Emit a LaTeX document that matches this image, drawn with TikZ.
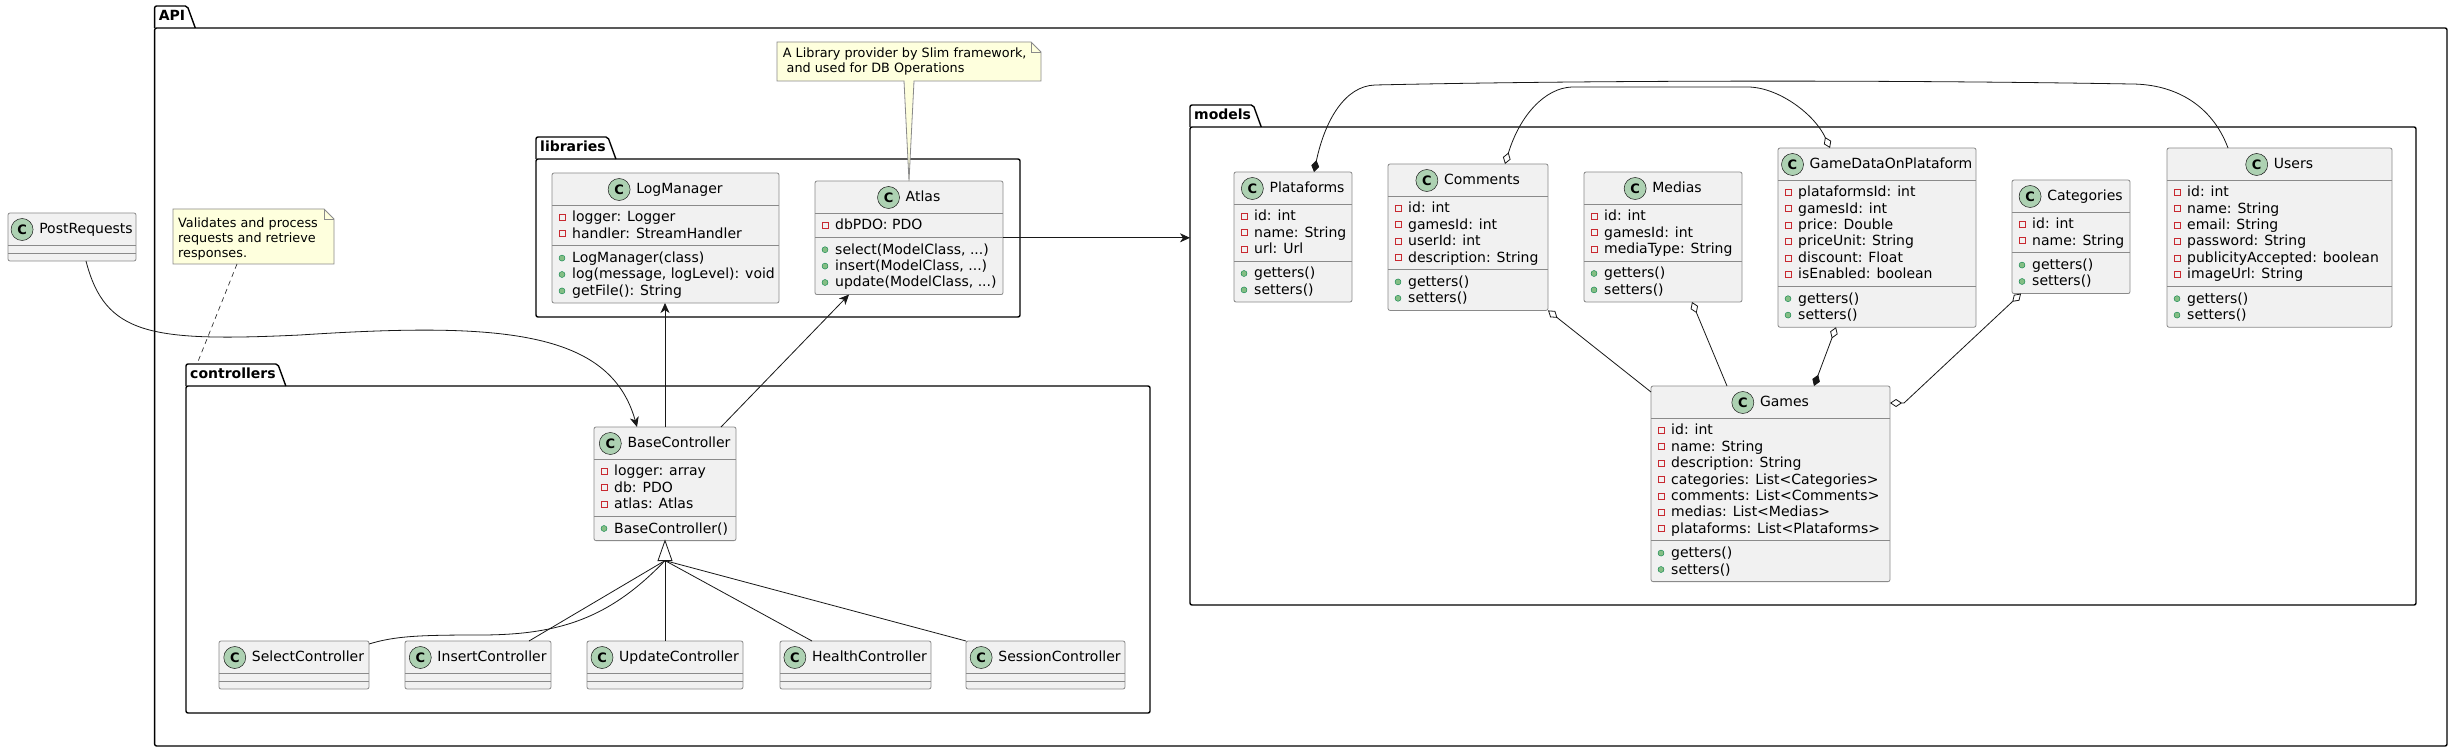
\documentclass[tikz,border=0pt]{standalone}
\usepackage{fontspec}
\setmainfont{DejaVu Sans}
\usetikzlibrary{arrows.meta}

\definecolor{classfill}{HTML}{F1F1F1}
\definecolor{classline}{HTML}{181818}
\definecolor{boxline}{HTML}{8A8A8A}
\definecolor{iconfill}{HTML}{ADD1B2}
\definecolor{privred}{HTML}{C82930}
\definecolor{pubfill}{HTML}{84BE84}
\definecolor{publine}{HTML}{038048}
\definecolor{notefill}{HTML}{FEFFDD}

\tikzset{classbox/.style = {draw=boxline, fill=classfill, line width=0.8pt, rectangle, rounded corners=2pt, inner sep=0pt, outer sep=0pt, anchor=north west},
         sepline/.style = {draw=boxline, line width=0.8pt},
         classicon/.style = {draw=classline, fill=iconfill, line width=0.5pt, circle, minimum size=22pt, inner sep=0pt, font=\fontsize{13}{13}\selectfont\bfseries},
         classname/.style = {inner sep=0pt, anchor=base, font=\fontsize{14}{16}\selectfont},
         member/.style = {inner sep=0pt, anchor=base west, font=\fontsize{14}{16}\selectfont},
         privmark/.style = {draw=privred, line width=0.6pt},
         pubmark/.style = {draw=publine, fill=pubfill, line width=0.4pt},
         package/.style = {draw=black, line width=1.4pt, rectangle, rounded corners=2pt, inner sep=0pt, outer sep=0pt, anchor=north west},
         pkgtab/.style = {draw=black, line width=1.4pt, rounded corners=2pt},
         pkgname/.style = {inner sep=0pt, anchor=base west, font=\fontsize{14}{16}\selectfont\bfseries},
         notearea/.style = {rectangle, inner sep=0pt, outer sep=0pt, anchor=north west},
         noteshape/.style = {draw=boxline, fill=notefill, line width=0.8pt},
         notetext/.style = {inner sep=0pt, anchor=base west, font=\fontsize{12.8}{15}\selectfont},
         link/.style = {draw=classline, line width=0.8pt},
         uses/.style = {link, -{Stealth[length=10pt, width=9pt, inset=3pt]}},
         odiam/.tip = {Diamond[length=12pt, width=8pt, fill=white]},
         fdiam/.tip = {Diamond[length=12pt, width=8pt]}}

\newcommand{\countmembers}[1]{\gdef\nmembers{0}\if\relax\detokenize{#1}\relax\else\foreach \q [count=\k] in {#1} {\xdef\nmembers{\k}}\fi}

% id, x, y, width, title, attributes, methods
\newcommand{\umlclass}[7]{%
  \countmembers{#6}\let\clsna\nmembers
  \countmembers{#7}\let\clsnm\nmembers
  \pgfmathsetmacro\clsha{\clsna*16.4+8}%
  \pgfmathsetmacro\clsht{32+\clsha+\clsnm*16.4+8}%
  \node[classbox, minimum width=#4pt, minimum height=\clsht pt] (#1) at (#2,#3) {};
  \draw[sepline] (#2,#3+32) -- ++(#4,0);
  \draw[sepline] (#2,#3+32+\clsha) -- ++(#4,0);
  \node[classname] (#1-name) at (#2+#4/2,#3+20.6) {\hspace*{28pt}#5};
  \node[classicon] (#1-icon) at ([xshift=11pt,yshift=4.1pt]#1-name.base west) {C};
  \if\relax\detokenize{#6}\relax\else
    \foreach \m [count=\i] in {#6} {
      \node[member] (#1-a\i) at (#2+20,#3+48.8+\i*16.4-16.4) {\m};
      \draw[privmark] (#2+7,#3+48.8+\i*16.4-16.4-7.5) rectangle ++(6,6);
    }
  \fi
  \if\relax\detokenize{#7}\relax\else
    \foreach \m [count=\i] in {#7} {
      \node[member] (#1-m\i) at (#2+20,#3+48.8+\clsha+\i*16.4-16.4) {\m};
      \draw[pubmark] (#2+10,#3+48.8+\clsha+\i*16.4-16.4-4.5) circle (3pt);
    }
  \fi
}

% id, left, tab top, frame top, right, bottom, title
\newcommand{\umlpkg}[7]{%
  \node[package, minimum width=#5pt-#2pt, minimum height=#6pt-#4pt] (#1) at (#2,#4) {};
  \coordinate (#1-tab) at (#2,#3);
  \node[pkgname] (#1-name) at (#2+4,#3+14.5) {#7};
  \draw[pkgtab] (#1.north west) -- (#1-tab) -- ([xshift=2pt]#1-name.east |- #1-tab) -- ([xshift=10pt]#1-name.east |- #1.north);
}

\begin{document}
\begin{tikzpicture}[x=1pt, y=-1pt]
    \fill[white] (0,0) rectangle (2454,751);
    \useasboundingbox (0,0) rectangle (2454,751);

    \umlpkg{api}{154.6}{6}{28}{2447}{746}{API}
    \umlpkg{libraries}{536}{137}{159}{1020}{317}{libraries}
    \umlpkg{controllers}{186}{364}{386}{1150}{713}{controllers}
    \umlpkg{models}{1190}{105}{127}{2416}{605}{models}

    \umlclass{post}{8}{213}{128}{PostRequests}{}{}
    \umlclass{logm}{552}{173}{227}{LogManager}{logger: Logger, handler: StreamHandler}{LogManager(class), {log(message, logLevel): void}, getFile(): String}
    \umlclass{atlas}{815}{181}{188}{Atlas}{dbPDO: PDO}{{select(ModelClass, .{}.{}.)}, {insert(ModelClass, .{}.{}.)}, {update(ModelClass, .{}.{}.)}}
    \umlclass{bc}{594}{427}{142}{BaseController}{logger: array, db: PDO, atlas: Atlas}{BaseController()}
    \umlclass{selc}{219}{641}{150}{SelectController}{}{}
    \umlclass{insc}{405}{641}{146}{InsertController}{}{}
    \umlclass{updc}{587}{641}{156}{UpdateController}{}{}
    \umlclass{hlthc}{780}{641}{151}{HealthController}{}{}
    \umlclass{sessc}{966}{641}{159}{SessionController}{}{}

    \umlclass{plat}{1234}{172}{118}{Plataforms}{id: int, name: String, url: Url}{getters(), setters()}
    \umlclass{comm}{1388}{164}{160}{Comments}{id: int, gamesId: int, userId: int, description: String}{getters(), setters()}
    \umlclass{medias}{1584}{172}{158}{Medias}{id: int, gamesId: int, mediaType: String}{getters(), setters()}
    \umlclass{gdop}{1778}{148}{198}{GameDataOnPlataform}{plataformsId: int, gamesId: int, price: Double, priceUnit: String, discount: Float, isEnabled: boolean}{getters(), setters()}
    \umlclass{cats}{2012}{180}{118}{Categories}{id: int, name: String}{getters(), setters()}
    \umlclass{users}{2167}{148}{225}{Users}{id: int, name: String, email: String, password: String, publicityAccepted: boolean, imageUrl: String}{getters(), setters()}
    \umlclass{games}{1651}{386}{239}{Games}{id: int, name: String, description: String, categories: List<Categories>, comments: List<Comments>, medias: List<Medias>, plataforms: List<Plataforms>}{getters(), setters()}

    % notes
    \node[notearea, minimum width=161pt, minimum height=55pt] (valnote) at (173,209) {};
    \draw[noteshape] (valnote.north west) -- ([xshift=-10pt]valnote.north east) -- ([yshift=-10pt]valnote.north east) -- (valnote.south east) -- (valnote.south west) -- cycle;
    \draw[noteshape, fill=none] ([xshift=-10pt]valnote.north east) |- ([yshift=-10pt]valnote.north east);
    \foreach \l [count=\i] in {Validates and process, requests and retrieve, responses.}
        \node[notetext] (valnote-l\i) at (178,227.5+\i*15-15) {\l};

    \node[notearea, minimum width=264pt, minimum height=39pt] (libnote) at (777,42) {};
    \draw[noteshape] (libnote.north west) -- ([xshift=-10pt]libnote.north east) -- ([yshift=-10pt]libnote.north east) -- (libnote.south east) -- (libnote.south west) -- cycle;
    \draw[noteshape, fill=none] ([xshift=-10pt]libnote.north east) |- ([yshift=-10pt]libnote.north east);
    \fill[notefill] ([xshift=-4.6pt,yshift=1pt]libnote.south) -- (atlas.north) -- ([xshift=4.6pt,yshift=1pt]libnote.south) -- cycle;
    \draw[noteshape, fill=none] ([xshift=-5pt]libnote.south) -- (atlas.north) -- ([xshift=5pt]libnote.south);
    \foreach \l [count=\i] in {{A Library provider by Slim framework,}, {\hspace*{3.8pt}and used for DB Operations}}
        \node[notetext] (libnote-l\i) at (782.7,58+\i*15-15) {\l};

    \draw[link, line width=0.6pt, dash pattern=on 5pt off 4pt] ([xshift=-16.5pt]valnote.south) -- ([xshift=11pt]controllers-tab);

    % controllers and libraries
    \draw[uses] ([xshift=14pt]post.south) .. controls (105,335) and (150,342) .. (300,335) .. controls (500,322) and (610,330) .. ([xshift=-28pt]bc.north);
    \draw[uses] (bc.north) -- (bc.north |- logm.south);
    \draw[uses] ([xshift=56pt]bc.north) -- ([xshift=-60pt]atlas.south);
    \draw[uses] (atlas.east) -- (models.west |- atlas.east);

    \coordinate (bc-tri) at ([yshift=-20pt]bc.south);
    \draw[link] ([yshift=-3pt]selc.north east) .. controls (395,636) and (420,635) .. (480,635) .. controls (560,635) and (610,618) .. (bc-tri);
    \draw[link] ([xshift=51pt]insc.north) -- (bc-tri);
    \draw[link] (updc.north) -- (bc-tri);
    \draw[link] ([xshift=-43.5pt]hlthc.north) -- (bc-tri);
    \draw[link] (sessc.north west) -- (bc-tri);
    \draw[link, fill=white] (bc.south) -- ([xshift=-7pt]bc-tri) -- ([xshift=7pt]bc-tri) -- cycle;

    % models
    \draw[link, -fdiam] ([xshift=-51.5pt]users.north) .. controls (2212,105) and (2175,84) .. (2131,84) .. controls (1900,80) and (1600,80) .. (1375,85) .. controls (1345,86) and (1325,120) .. ([xshift=21pt]plat.north);
    \draw[link, odiam-odiam] ([xshift=37pt]comm.north) .. controls (1520,115) and (1545,88) .. (1572,87) -- (1749,87) .. controls (1780,88) and (1815,115) .. ([xshift=-47pt]gdop.north);
    \draw[link, odiam-] (comm.south east) -- ([yshift=-6pt]games.north west);
    \draw[link, odiam-] ([xshift=29pt]medias.south) -- ([xshift=-43.5pt]games.north);
    \draw[link, odiam-fdiam] ([xshift=-41pt]gdop.south) -- ([xshift=43.5pt]games.north);
    \draw[link, odiam-odiam] ([xshift=9pt]cats.south west) -- ([xshift=14pt,yshift=-17pt]games.north east) -- ([yshift=-17pt]games.north east);
\end{tikzpicture}
\end{document}
